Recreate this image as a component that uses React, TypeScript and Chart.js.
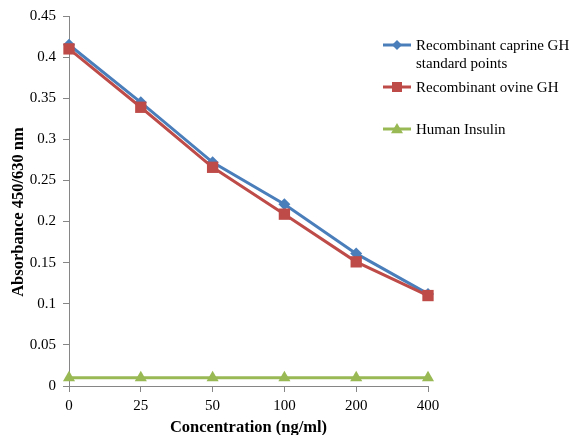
import React, { useEffect, useRef } from "react";
import { Chart, registerables } from "chart.js";

Chart.register(...registerables);

const categories = ["0", "25", "50", "100", "200", "400"];
const caprineGH = [0.415, 0.345, 0.272, 0.221, 0.161, 0.112];
const ovineGH = [0.41, 0.339, 0.266, 0.209, 0.151, 0.11];
const humanInsulin = [0.01, 0.01, 0.01, 0.01, 0.01, 0.01];
const yTicks = [0, 0.05, 0.1, 0.15, 0.2, 0.25, 0.3, 0.35, 0.4, 0.45];
const yTitle = "Absorbance 450/630 nm";
const xTitle = "Concentration (ng/ml)";

const BLUE = "#4A7EBB";
const RED = "#BE4B48";
const GREEN = "#98B954";
const AXIS = "#868686";
const FONT = "'Liberation Serif', 'Times New Roman', serif";

const legendItems = [
  { lines: ["Recombinant caprine GH", "standard points"], color: BLUE, style: "diamond" },
  { lines: ["Recombinant ovine GH"], color: RED, style: "square" },
  { lines: ["Human Insulin"], color: GREEN, style: "triangle" },
];

function drawMarker(ctx: CanvasRenderingContext2D, style: string, x: number, y: number, color: string) {
  ctx.save();
  ctx.fillStyle = color;
  ctx.beginPath();
  if (style === "diamond") {
    const r = 5;
    ctx.moveTo(x, y - r);
    ctx.lineTo(x + r, y);
    ctx.lineTo(x, y + r);
    ctx.lineTo(x - r, y);
  } else if (style === "square") {
    const s = 5;
    ctx.rect(x - s, y - s, 2 * s, 2 * s);
  } else {
    const r = 6;
    ctx.moveTo(x, y - r);
    ctx.lineTo(x + r, y + r * 0.7);
    ctx.lineTo(x - r, y + r * 0.7);
  }
  ctx.closePath();
  ctx.fill();
  ctx.restore();
}

const customDecor = {
  id: "customDecor",
  afterDraw(chart: any) {
    const ctx: CanvasRenderingContext2D = chart.ctx;
    const ys = [45, 87, 129];
    legendItems.forEach((item, i) => {
      const y = ys[i];
      ctx.save();
      ctx.strokeStyle = item.color;
      ctx.lineWidth = 3;
      ctx.beginPath();
      ctx.moveTo(383, y);
      ctx.lineTo(411, y);
      ctx.stroke();
      ctx.restore();
      drawMarker(ctx, item.style, 397, y, item.color);
      ctx.save();
      ctx.fillStyle = "#000";
      ctx.font = `15px ${FONT}`;
      ctx.textBaseline = "middle";
      ctx.textAlign = "left";
      item.lines.forEach((t, j) => ctx.fillText(t, 416, y + 1 + j * 18));
      ctx.restore();
    });
    // y axis title
    ctx.save();
    ctx.translate(19, 212);
    ctx.rotate(-Math.PI / 2);
    ctx.fillStyle = "#000";
    ctx.font = `bold 16.5px ${FONT}`;
    ctx.textAlign = "center";
    ctx.textBaseline = "middle";
    ctx.fillText(yTitle, 0, 0);
    ctx.restore();
  },
};

export default function App() {
  const ref = useRef<HTMLCanvasElement | null>(null);
  useEffect(() => {
    if (!ref.current) return;
    const chart = new Chart(ref.current, {
      type: "line",
      data: {
        labels: categories,
        datasets: [
          {
            label: "Recombinant caprine GH standard points",
            data: caprineGH,
            borderColor: BLUE,
            backgroundColor: BLUE,
            borderWidth: 3,
            pointStyle: "rectRot",
            pointRadius: 6,
            pointBorderWidth: 0,
            order: 1,
          },
          {
            label: "Recombinant ovine GH",
            data: ovineGH,
            borderColor: RED,
            backgroundColor: RED,
            borderWidth: 3,
            pointStyle: "rect",
            pointRadius: 8,
            pointBorderWidth: 0,
            order: 0,
          },
          {
            label: "Human Insulin",
            data: humanInsulin,
            borderColor: GREEN,
            backgroundColor: GREEN,
            borderWidth: 3,
            pointStyle: "triangle",
            pointRadius: 7,
            pointBorderWidth: 0,
            order: 2,
          },
        ],
      },
      options: {
        responsive: false,
        animation: false,
        layout: { padding: { top: 16, right: 141, left: 0, bottom: 0 } },
        plugins: { legend: { display: false }, tooltip: { enabled: false } },
        scales: {
          x: {
            type: "category",
            offset: false,
            border: { color: AXIS, width: 1 },
            grid: { drawOnChartArea: false, drawTicks: true, tickLength: 6, color: AXIS, offset: false },
            ticks: { color: "#000", font: { family: FONT, size: 15 }, padding: 5, maxRotation: 0 },
            title: {
              display: true,
              text: xTitle,
              color: "#000",
              font: { family: FONT, size: 16.5, weight: "bold" },
              padding: { top: 0, bottom: -3 },
            },
            afterFit: (s: any) => {
              s.height = 49;
            },
          },
          y: {
            min: 0,
            max: 0.45,
            border: { color: AXIS, width: 1 },
            grid: { drawOnChartArea: false, drawTicks: true, tickLength: 6, color: AXIS },
            afterBuildTicks: (s: any) => {
              s.ticks = yTicks.map((v) => ({ value: v }));
            },
            ticks: {
              color: "#000",
              font: { family: FONT, size: 15 },
              padding: 7,
              callback: (v: any) => String(Number(v)),
            },
            afterFit: (s: any) => {
              s.width = 69;
            },
          },
        },
      },
      plugins: [customDecor],
    });
    return () => chart.destroy();
  }, []);
  return (
    <div style={{ position: "fixed", left: 0, top: 0, width: 569, height: 435, background: "#fff" }}>
      <canvas ref={ref} width={569} height={435} style={{ width: 569, height: 435 }} />
    </div>
  );
}
